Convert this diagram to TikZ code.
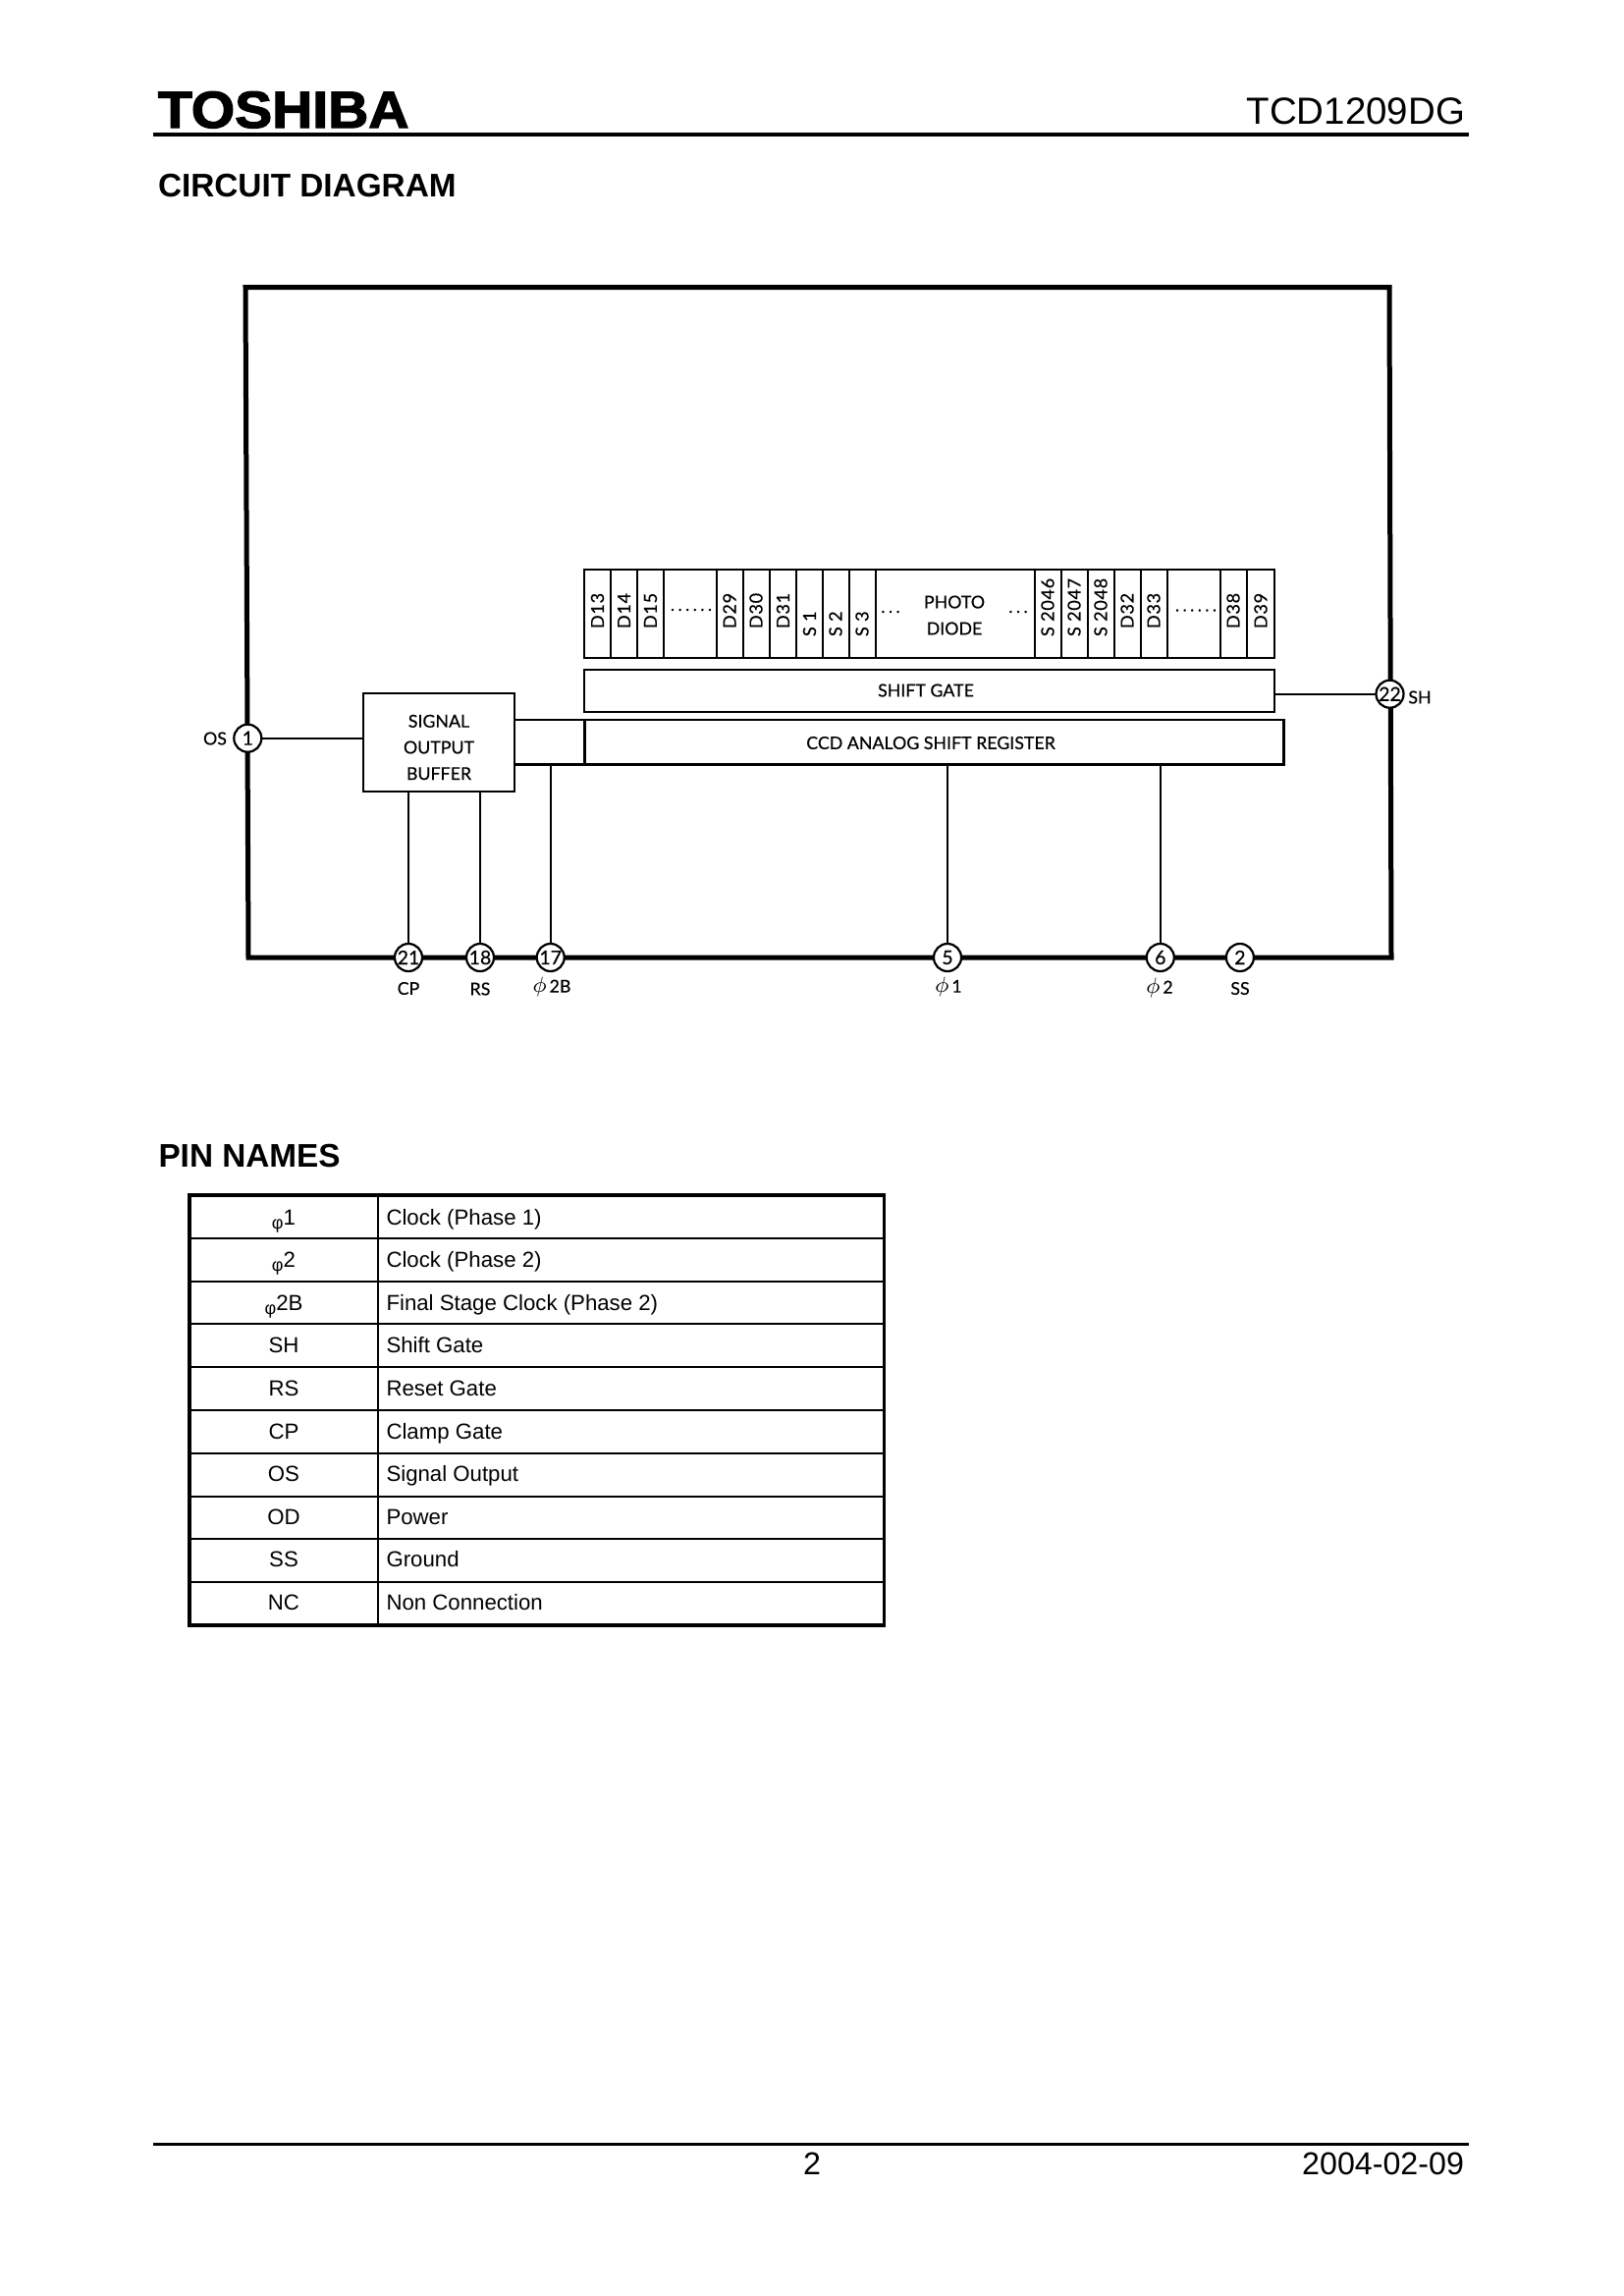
\documentclass[tikz,border=0pt]{standalone}
\usepackage{fontspec}
\setmainfont{Liberation Sans}
\newfontfamily\logofont[FakeBold=2.5,FakeStretch=1.08]{Liberation Sans Bold}
\newfontfamily\chipfont[FakeBold=0.4]{Lato}
\usepackage{tikz}
\newcommand{\tblphi}{\raisebox{-0.35ex}{\fontsize{6.5}{7}\selectfont φ}}
\newcommand{\pinphi}{{\fontsize{8}{9}\selectfont$\phi$}\,}

\begin{document}
\begin{tikzpicture}[x=0.36pt, y=-0.36pt,
    every node/.style={inner sep=0pt, outer sep=0pt},
    chiptext/.style={font=\chipfont\fontsize{6.4}{9.6}\selectfont, align=center},
    celltext/.style={font=\chipfont\addfontfeatures{LetterSpace=4}\fontsize{6.5}{8}\selectfont, rotate=90, anchor=west},
    dotstext/.style={font=\chipfont\addfontfeatures{LetterSpace=22}\fontsize{6}{8}\selectfont},
    pinnum/.style={circle, draw, line width=0.8pt, fill=white, minimum size=28*0.36pt, font=\chipfont\fontsize{7}{8}\selectfont},
    chipbox/.style={draw, line width=1pt},
    framewire/.style={line width=1.8pt, line join=miter},
    wire/.style={line width=0.85pt},
    rulewire/.style={line width=1.1pt},
    rowname/.style={font=\fontsize{8}{10}\selectfont, anchor=base},
    rowtext/.style={font=\fontsize{8}{10}\selectfont, anchor=base west},
    headtext/.style={font=\bfseries\fontsize{12}{14}\selectfont, anchor=base west}]
    \useasboundingbox (0,0) rectangle (1653,2338);

    % Page header
    \node[font=\logofont\fontsize{19}{24}\selectfont, anchor=base west] (logo) at (161,130) {TOSHIBA};
    \node[font=\fontsize{13.85}{16}\selectfont, anchor=base east] (partno) at (1492,126) {TCD1209DG};
    \draw[rulewire] (156,137) -- (1496,137);
    \node[headtext] (circuithead) at (161,200.7) {CIRCUIT DIAGRAM};

    % Package outline
    \draw[framewire] (250,292.5) -- (1415,292.5) -- (1417,975) -- (253,975) -- cycle;

    % Blocks
    \node[chipbox, line width=0.9pt, minimum width=154*0.36pt, minimum height=99.6*0.36pt] (buffer) at (447,756) {};
    \node[chipbox, minimum width=703*0.36pt, minimum height=90*0.36pt] (strip) at (946.5,625) {};
    \node[chipbox, minimum width=703*0.36pt, minimum height=43*0.36pt] (shiftgate) at (946.5,703.5) {};
    \node[chipbox, line width=0.9pt, minimum width=712*0.36pt, minimum height=45.5*0.36pt] (ccd) at (951.6,755.8) {};
    \node[chiptext] (buffertext) at (447,761) {SIGNAL\\OUTPUT\\BUFFER};
    \node[chiptext] (gatetext) at (943,703) {SHIFT GATE};
    \node[chiptext] (ccdtext) at (948,756.5) {CCD ANALOG SHIFT REGISTER};
    \node[chiptext, font=\chipfont\fontsize{6.4}{9.7}\selectfont] (phototext) at (972,626.5) {PHOTO\\DIODE};

    % Cell dividers
    \foreach \x in {622,649,676,730,757,784,811,838,865,892,1054,1081,1108,1135,1162,1189,1243,1270}
        \draw[line width=0.75pt] (\x,580) -- (\x,670);

    % Cell labels
    \foreach \x/\t in {608.5/D13,635.5/D14,662.5/D15,743/D29,770/D30,797.5/D31,1148/D32,1175/D33,1256/D38,1284/D39}
        \node[celltext] (cell\t) at (\x,640) {\t};
    \foreach \x/\n/\t in {824.5/s1/S 1,851/s2/S 2,878/s3/S 3,1067/s2046/S 2046,1094/s2047/S 2047,1121/s2048/S 2048}
        \node[celltext] (cell\n) at (\x,648) {\t};
    \node[dotstext] (dotsa) at (704,621) {......};
    \node[dotstext] (dotsb) at (907,623) {...};
    \node[dotstext] (dotsc) at (1037,623) {...};
    \node[dotstext] (dotsd) at (1218,621.5) {......};

    % Pins
    \node[pinnum] (pinA) at (252.3,751.7) {1};
    \node[pinnum] (pinV) at (1415.5,706.7) {22};
    \foreach \x/\n in {416/21,489/18,560.7/17,965/5,1181.8/6,1262.9/2}
        \node[pinnum] (pin\n) at (\x,975) {\n};

    % Pin labels
    \node[chiptext] (labos) at (219,752) {OS};
    \node[chiptext] (labsh) at (1446,710) {SH};
    \node[chiptext] (labcp) at (416,1006.5) {CP};
    \node[chiptext] (labrs) at (489,1007) {RS};
    \node[chiptext] (labphib) at (562,1005) {\pinphi 2B};
    \node[chiptext] (labphia) at (966,1005) {\pinphi 1};
    \node[chiptext] (labphic) at (1181,1006) {\pinphi 2};
    \node[chiptext] (labss) at (1263,1006.5) {SS};

    % Connections
    \draw[wire] (pinA) -- (buffer.west |- pinA);
    \draw[wire] (pinV) -- (shiftgate.east |- pinV);
    \draw[wire] (pin21) -- (pin21 |- buffer.south);
    \draw[wire] (pin18) -- (pin18 |- buffer.south);
    \draw[wire] (pin17) -- (pin17 |- ccd.south);
    \draw[wire] (pin5) -- (pin5 |- ccd.south);
    \draw[wire] (pin6) -- (pin6 |- ccd.south);
    \draw[wire] (buffer.east |- ccd.north) -- (ccd.north west);
    \draw[wire] (buffer.east |- ccd.south) -- (ccd.south west);

    % Pin table
    \node[headtext] (pinhead) at (161.5,1188) {PIN NAMES};
    \foreach \i in {1,...,9}
        \draw[line width=0.75pt] (192.7,{1217+43.8*\i}) -- (900.5,{1217+43.8*\i});
    \draw[line width=0.75pt] (385,1217) -- (385,1655);
    \draw[line width=1.3pt] (192.7,1217) rectangle (900.5,1655);
    \foreach \i/\p/\n in {0/\tblphi 1/Clock (Phase 1),1/\tblphi 2/Clock (Phase 2),2/\tblphi 2B/Final Stage Clock (Phase 2),
        3/SH/Shift Gate,4/RS/Reset Gate,5/CP/Clamp Gate,6/OS/Signal Output,7/OD/Power,8/SS/Ground,9/NC/Non Connection} {
        \node[rowname] (pname\i) at (289,{1247+43.6*\i}) {\p};
        \node[rowtext] (ptext\i) at (393.5,{1247+43.6*\i}) {\n};
    }

    % Page footer
    \draw[rulewire] (156,2183.7) -- (1496,2183.7);
    \node[font=\fontsize{11.6}{14}\selectfont, anchor=base] (pageno) at (827,2214) {2};
    \node[font=\fontsize{11.6}{14}\selectfont, anchor=base east] (pagedate) at (1491,2214) {2004-02-09};
\end{tikzpicture}
\end{document}
